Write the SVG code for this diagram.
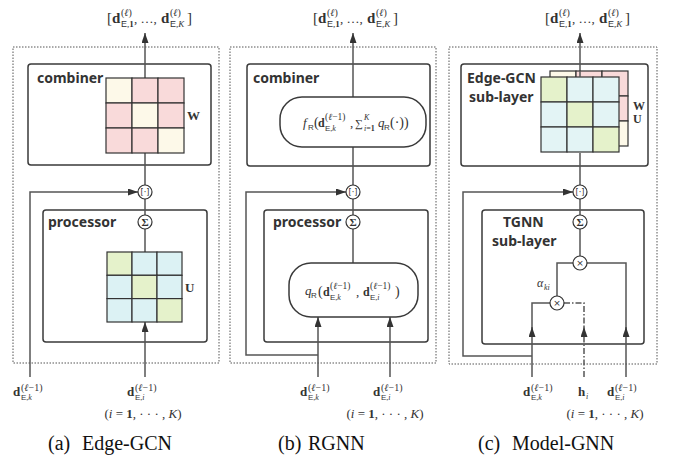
<svg xmlns="http://www.w3.org/2000/svg" width="673" height="456" viewBox="0 0 673 456">
<defs>
<marker id="ah" viewBox="0 0 10 7" refX="10" refY="3.5" markerWidth="10" markerHeight="7" markerUnits="userSpaceOnUse" orient="auto"><path d="M0,0 L10,3.5 L0,7 z" fill="#333"/></marker>
</defs>
<style>
.dot{fill:none;stroke:#555;stroke-width:1;stroke-dasharray:1.5 1.5}
.box{fill:#fff;stroke:#3a3a3a;stroke-width:1.5}
.ln{fill:none;stroke:#555;stroke-width:1.5}
.ar{marker-end:url(#ah)}
.dd{stroke-dasharray:6 2 1.5 2}
.cir{fill:#fff;stroke:#333;stroke-width:1.2}
.cell{stroke:#333;stroke-width:1.2}
.y{fill:#FDF9E9}.p{fill:#F9DADA}.g{fill:#E5F2CB}.c{fill:#DCF2F4}.c2{fill:#E3F4F5}
.lbl{font-family:"Noto Sans","Liberation Sans",sans-serif;font-weight:bold;font-size:14px;fill:#333}
.m{font-family:"Liberation Serif","DejaVu Serif",serif;fill:#333}
.sf{font-family:"Liberation Sans",sans-serif}
.bd{font-weight:bold}
.it{font-style:italic}
.cap{font-family:"Liberation Serif",serif;font-size:20px;fill:#111}
.sym{font-family:"DejaVu Sans",sans-serif;fill:#333;text-anchor:middle}
</style>
<rect width="673" height="456" fill="#fff"/>

<!-- panel frames -->
<g id="frame-a"><rect class="dot" x="13" y="47" width="206" height="316"/></g>
<g id="frame-b"><rect class="dot" x="230" y="47" width="206" height="316"/></g>
<g id="frame-c"><rect class="dot" x="449" y="47" width="208" height="317"/></g>

<g id="combiner-a"><rect class="box" x="28" y="64" width="183" height="101" rx="3"/><text class="lbl" x="37" y="83">combiner</text></g>
<g id="processor-a"><rect class="box" x="43" y="210" width="164" height="132" rx="3"/><text class="lbl" x="48" y="227">processor</text></g>
<g id="combiner-b"><rect class="box" x="247" y="64" width="183" height="102" rx="3"/><text class="lbl" x="253" y="83">combiner</text></g>
<g id="processor-b"><rect class="box" x="264" y="210" width="164" height="132" rx="3"/><text class="lbl" x="273" y="227">processor</text></g>
<g id="combiner-c"><rect class="box" x="461" y="64" width="187" height="102" rx="3"/><text class="lbl" x="467" y="83">Edge-GCN</text><text class="lbl" x="469" y="102">sub-layer</text></g>
<g id="processor-c"><rect class="box" x="482" y="210" width="162" height="134" rx="3"/><text class="lbl" x="503" y="227">TGNN</text><text class="lbl" x="492" y="246">sub-layer</text></g>

<!-- connectors -->
<g id="connectors">
<path class="ln ar" d="M145,78 V33"/>
<path class="ln" d="M145,153 V185"/>
<path class="ln" d="M145,199 V215"/>
<path class="ln" d="M145,229 V252"/>
<path class="ln ar" d="M145,377 V322"/>
<path class="ln ar" d="M30,377 V192 H138"/>

<path class="ln ar" d="M353,97 V33"/>
<path class="ln" d="M353,147 V185"/>
<path class="ln" d="M353,199 V215"/>
<path class="ln" d="M353,229 V263"/>
<path class="ln ar" d="M318,377 V317"/>
<path class="ln ar" d="M390,377 V317"/>
<path class="ln ar" d="M318,355 H246 V192 H346"/>

<path class="ln ar" d="M580,77 V33"/>
<path class="ln" d="M580,153 V185"/>
<path class="ln" d="M580,199 V215"/>
<path class="ln" d="M580,229 V256"/>
<path class="ln" d="M573,263 H557 V296"/>
<path class="ln" d="M587,263 H626 V330"/>
<path class="ln ar" d="M626,377 V327"/>
<path class="ln" d="M550,303 H532 V330"/>
<path class="ln ar" d="M532,377 V327"/>
<path class="ln dd" d="M564,303 H584 V330"/>
<path class="ln ar dd" d="M584,377 V327"/>
<path class="ln ar" d="M532,356 H463 V192 H573"/>
</g>

<!-- matrices -->
<g id="W-a">
<rect class="cell y" x="106" y="78" width="26" height="25"/><rect class="cell p" x="132" y="78" width="26" height="25"/><rect class="cell p" x="158" y="78" width="26" height="25"/>
<rect class="cell p" x="106" y="103" width="26" height="25"/><rect class="cell y" x="132" y="103" width="26" height="25"/><rect class="cell p" x="158" y="103" width="26" height="25"/>
<rect class="cell p" x="106" y="128" width="26" height="25"/><rect class="cell p" x="132" y="128" width="26" height="25"/><rect class="cell y" x="158" y="128" width="26" height="25"/>
<text class="m bd" font-size="13" x="187" y="120">W</text>
</g>
<g id="U-a">
<rect class="cell g" x="107" y="252" width="25" height="23.3"/><rect class="cell c" x="132" y="252" width="25" height="23.3"/><rect class="cell c" x="157" y="252" width="25" height="23.3"/>
<rect class="cell c" x="107" y="275.3" width="25" height="23.3"/><rect class="cell g" x="132" y="275.3" width="25" height="23.3"/><rect class="cell c" x="157" y="275.3" width="25" height="23.3"/>
<rect class="cell c" x="107" y="298.6" width="25" height="23.4"/><rect class="cell c" x="132" y="298.6" width="25" height="23.4"/><rect class="cell g" x="157" y="298.6" width="25" height="23.4"/>
<text class="m bd" font-size="13" x="185" y="292">U</text>
</g>
<g id="WU-c">
<rect class="cell y" x="550" y="71" width="26" height="25"/><rect class="cell p" x="576" y="71" width="26" height="25"/><rect class="cell p" x="602" y="71" width="26" height="25"/>
<rect class="cell p" x="550" y="96" width="26" height="25"/><rect class="cell y" x="576" y="96" width="26" height="25"/><rect class="cell p" x="602" y="96" width="26" height="25"/>
<rect class="cell p" x="550" y="121" width="26" height="25"/><rect class="cell p" x="576" y="121" width="26" height="25"/><rect class="cell y" x="602" y="121" width="26" height="25"/>
<rect class="cell g" x="541" y="77" width="26" height="25"/><rect class="cell c2" x="567" y="77" width="26" height="25"/><rect class="cell c2" x="593" y="77" width="26" height="25"/>
<rect class="cell c2" x="541" y="102" width="26" height="25"/><rect class="cell g" x="567" y="102" width="26" height="25"/><rect class="cell c2" x="593" y="102" width="26" height="25"/>
<rect class="cell c2" x="541" y="127" width="26" height="25"/><rect class="cell c2" x="567" y="127" width="26" height="25"/><rect class="cell g" x="593" y="127" width="26" height="25"/>
<text class="m bd" font-size="12" x="633" y="110">W</text>
<text class="m bd" font-size="12" x="633" y="123">U</text>
</g>
<path class="ln" d="M580,77 V71"/>

<!-- pills -->
<g id="fR-b">
<rect class="box" x="280" y="97" width="146" height="50" rx="22"/>
<text class="m" font-size="13"><tspan x="303" y="127" class="it">f</tspan><tspan x="308" y="130" font-size="8" class="sf">R</tspan><tspan x="314" y="127" font-size="14">(</tspan><tspan x="318" y="127" class="bd" font-size="12">d</tspan><tspan x="325" y="119.5" font-size="9.5">(<tspan class="it">ℓ</tspan>−1)</tspan><tspan x="325" y="131" font-size="8"><tspan class="sf">E</tspan>,<tspan class="it">k</tspan></tspan><tspan x="350" y="127">,</tspan><tspan x="355" y="127" font-size="11">∑</tspan><tspan x="364" y="119.5" font-size="8" class="it">K</tspan><tspan x="364" y="131" font-size="8"><tspan class="it">i</tspan>=<tspan class="bd">1</tspan></tspan><tspan x="378" y="127" class="it">q</tspan><tspan x="384" y="130" font-size="8" class="sf">R</tspan><tspan x="390" y="127" font-size="14">(·))</tspan></text>
</g>
<g id="qR-b">
<rect class="box" x="289" y="263" width="129" height="54" rx="22"/>
<text class="m" font-size="13"><tspan x="305" y="295" class="it">q</tspan><tspan x="311" y="298" font-size="8" class="sf">R</tspan><tspan x="318" y="296" font-size="14">(</tspan><tspan x="323" y="296" class="bd" font-size="12">d</tspan><tspan x="330" y="289" font-size="9.5">(<tspan class="it">ℓ</tspan>−1)</tspan><tspan x="330" y="300" font-size="8"><tspan class="sf">E</tspan>,<tspan class="it">k</tspan></tspan><tspan x="356" y="296">,</tspan><tspan x="363" y="296" class="bd" font-size="12">d</tspan><tspan x="370" y="289" font-size="9.5">(<tspan class="it">ℓ</tspan>−1)</tspan><tspan x="370" y="300" font-size="8"><tspan class="sf">E</tspan>,<tspan class="it">i</tspan></tspan><tspan x="395" y="296" font-size="14">)</tspan></text>
</g>

<!-- operator circles -->
<g id="odot-a"><circle class="cir" cx="145" cy="192" r="7"/><text class="sym" font-size="8" x="145" y="195">[·]</text></g>
<g id="sum-a"><circle class="cir" cx="145" cy="222" r="7"/><text class="m bd" font-size="11" text-anchor="middle" x="145" y="226">Σ</text></g>
<g id="odot-b"><circle class="cir" cx="353" cy="192" r="7"/><text class="sym" font-size="8" x="353" y="195">[·]</text></g>
<g id="sum-b"><circle class="cir" cx="353" cy="222" r="7"/><text class="m bd" font-size="11" text-anchor="middle" x="353" y="226">Σ</text></g>
<g id="odot-c"><circle class="cir" cx="580" cy="192" r="7"/><text class="sym" font-size="8" x="580" y="195">[·]</text></g>
<g id="sum-c"><circle class="cir" cx="580" cy="222" r="7"/><text class="m bd" font-size="11" text-anchor="middle" x="580" y="226">Σ</text></g>
<g id="mul1-c"><circle class="cir" cx="580" cy="263" r="7"/><text class="sym" font-size="9" x="580" y="266">×</text></g>
<g id="mul2-c"><circle class="cir" cx="557" cy="303" r="7"/><text class="sym" font-size="9" x="557" y="306">×</text></g>
<g id="alpha-c"><text class="m" font-size="12" fill="#666"><tspan x="537" y="287" class="it">α</tspan><tspan x="544" y="290" font-size="8" class="it">ki</tspan></text></g>

<!-- output labels -->
<g id="out-a"><text class="m" font-size="15"><tspan x="107" y="23">[</tspan><tspan x="112" y="23" class="bd">d</tspan><tspan x="121" y="15.5" font-size="10">(<tspan class="it">ℓ</tspan>)</tspan><tspan x="121" y="26.5" font-size="9"><tspan class="sf">E</tspan>,<tspan class="bd">1</tspan></tspan><tspan x="134" y="23" font-size="13">, …, </tspan><tspan x="161" y="23" class="bd">d</tspan><tspan x="170" y="15.5" font-size="10">(<tspan class="it">ℓ</tspan>)</tspan><tspan x="170" y="26.5" font-size="9"><tspan class="sf">E</tspan>,<tspan class="it">K</tspan></tspan><tspan x="187" y="23">]</tspan></text></g>
<g id="out-b"><text class="m" font-size="15"><tspan x="313" y="23">[</tspan><tspan x="318" y="23" class="bd">d</tspan><tspan x="327" y="15.5" font-size="10">(<tspan class="it">ℓ</tspan>)</tspan><tspan x="327" y="26.5" font-size="9"><tspan class="sf">E</tspan>,<tspan class="bd">1</tspan></tspan><tspan x="340" y="23" font-size="13">, …, </tspan><tspan x="367" y="23" class="bd">d</tspan><tspan x="376" y="15.5" font-size="10">(<tspan class="it">ℓ</tspan>)</tspan><tspan x="376" y="26.5" font-size="9"><tspan class="sf">E</tspan>,<tspan class="it">K</tspan></tspan><tspan x="393" y="23">]</tspan></text></g>
<g id="out-c"><text class="m" font-size="15"><tspan x="545" y="23">[</tspan><tspan x="550" y="23" class="bd">d</tspan><tspan x="559" y="15.5" font-size="10">(<tspan class="it">ℓ</tspan>)</tspan><tspan x="559" y="26.5" font-size="9"><tspan class="sf">E</tspan>,<tspan class="bd">1</tspan></tspan><tspan x="572" y="23" font-size="13">, …, </tspan><tspan x="599" y="23" class="bd">d</tspan><tspan x="608" y="15.5" font-size="10">(<tspan class="it">ℓ</tspan>)</tspan><tspan x="608" y="26.5" font-size="9"><tspan class="sf">E</tspan>,<tspan class="it">K</tspan></tspan><tspan x="625" y="23">]</tspan></text></g>

<!-- input labels -->
<g id="in-a">
<text class="m" font-size="13"><tspan x="13" y="396" class="bd">d</tspan><tspan x="21" y="390.5" font-size="10">(<tspan class="it">ℓ</tspan>−1)</tspan><tspan x="21" y="400" font-size="8"><tspan class="sf">E</tspan>,<tspan class="it">k</tspan></tspan></text>
<text class="m" font-size="13"><tspan x="127" y="396" class="bd">d</tspan><tspan x="135" y="390.5" font-size="10">(<tspan class="it">ℓ</tspan>−1)</tspan><tspan x="135" y="400" font-size="8"><tspan class="sf">E</tspan>,<tspan class="it">i</tspan></tspan></text>
<text class="m" font-size="13" x="143" y="418" text-anchor="middle">(<tspan class="it">i</tspan> = <tspan class="bd">1</tspan>, · · · , <tspan class="it">K</tspan>)</text>
</g>
<g id="in-b">
<text class="m" font-size="13"><tspan x="300" y="396" class="bd">d</tspan><tspan x="308" y="390.5" font-size="10">(<tspan class="it">ℓ</tspan>−1)</tspan><tspan x="308" y="400" font-size="8"><tspan class="sf">E</tspan>,<tspan class="it">k</tspan></tspan></text>
<text class="m" font-size="13"><tspan x="373" y="396" class="bd">d</tspan><tspan x="381" y="390.5" font-size="10">(<tspan class="it">ℓ</tspan>−1)</tspan><tspan x="381" y="400" font-size="8"><tspan class="sf">E</tspan>,<tspan class="it">i</tspan></tspan></text>
<text class="m" font-size="13" x="385" y="418" text-anchor="middle">(<tspan class="it">i</tspan> = <tspan class="bd">1</tspan>, · · · , <tspan class="it">K</tspan>)</text>
</g>
<g id="in-c">
<text class="m" font-size="13"><tspan x="523" y="396" class="bd">d</tspan><tspan x="531" y="390.5" font-size="10">(<tspan class="it">ℓ</tspan>−1)</tspan><tspan x="531" y="400" font-size="8"><tspan class="sf">E</tspan>,<tspan class="it">k</tspan></tspan></text>
<text class="m" font-size="13"><tspan x="578" y="396" class="bd">h</tspan><tspan x="586" y="399" font-size="8" class="it">i</tspan></text>
<text class="m" font-size="13"><tspan x="607" y="396" class="bd">d</tspan><tspan x="615" y="390.5" font-size="10">(<tspan class="it">ℓ</tspan>−1)</tspan><tspan x="615" y="400" font-size="8"><tspan class="sf">E</tspan>,<tspan class="it">i</tspan></tspan></text>
<text class="m" font-size="13" x="605" y="418" text-anchor="middle">(<tspan class="it">i</tspan> = <tspan class="bd">1</tspan>, · · · , <tspan class="it">K</tspan>)</text>
</g>

<!-- captions -->
<g id="caption-a"><text class="cap" x="48" y="450">(a)</text><text class="cap" x="82" y="450">Edge-GCN</text></g>
<g id="caption-b"><text class="cap" x="278" y="450">(b)</text><text class="cap" x="308" y="450">RGNN</text></g>
<g id="caption-c"><text class="cap" x="478" y="450">(c)</text><text class="cap" x="512" y="450">Model-GNN</text></g>
</svg>
